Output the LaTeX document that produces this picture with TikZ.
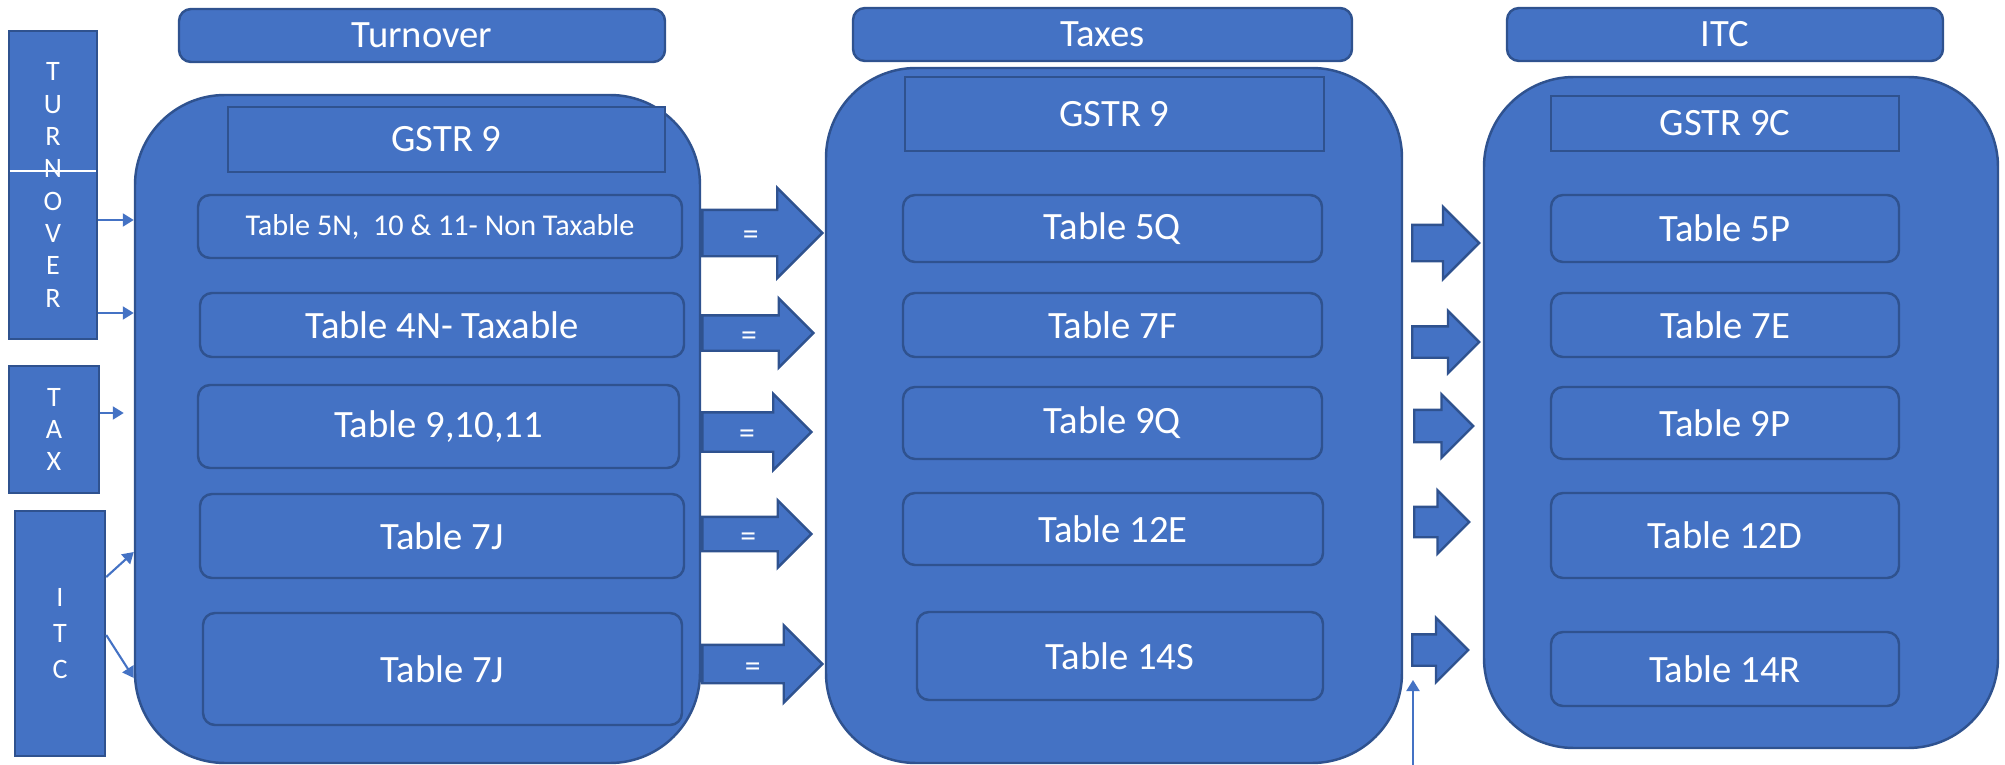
\documentclass[tikz,border=0pt]{standalone}
\usepackage{fontspec}
\setmainfont{Carlito}
\usetikzlibrary{shapes.arrows,arrows.meta}

\definecolor{gstfill}{HTML}{4472C4}
\definecolor{gstline}{HTML}{2F528F}

\newcommand\eqmark{\raisebox{-0.12cm}{=}}

\tikzset{
  card/.style={draw=gstline, fill=gstfill, text=white, line width=0.7pt, inner sep=0pt},
  sz/.style 2 args={minimum width=#1cm, minimum height=#2cm},
  sidebox/.style={card, align=center, font=\fontsize{8}{9.2}\selectfont},
  groupbox/.style={card, rounded corners=0.9cm},
  titlebox/.style={card, rounded corners=0.12cm, font=\fontsize{11}{13}\selectfont},
  formbox/.style={card, font=\fontsize{11}{13}\selectfont},
  tablebox/.style={card, rounded corners=0.12cm, font=\fontsize{11}{13}\selectfont},
  blockarrow/.style={card, single arrow, anchor=tail, minimum width=1pt,
    font=\fontsize{9}{10}\selectfont},
  blk/.style n args={3}{text height=#1cm, text depth=#1cm,
    single arrow head extend=#2cm, minimum height=#3cm},
  feed/.style={draw=gstfill, line width=0.6pt, -{Triangle[length=0.11cm,width=0.13cm]}}
}

\begin{document}
\begin{tikzpicture}
  \useasboundingbox (0,0) rectangle (20.05,-7.65);

  % side labels
  \node[sidebox, sz={0.88}{3.08}] (turn) at (0.53,-1.85) {T\\U\\R\\N\\O\\V\\E\\R};
  \draw[white, line width=0.5pt] ([shift={(0.02,0.14)}]turn.west) -- ([shift={(-0.02,0.14)}]turn.east);
  \node[sidebox, sz={0.90}{1.27}] (tax) at (0.54,-4.295) {T\\A\\X};
  \node[sidebox, sz={0.90}{2.45}, font=\fontsize{8}{10.2}\selectfont] (itc) at (0.60,-6.335) {I\\T\\C};

  % column headings
  \node[titlebox, sz={4.86}{0.53}] (tturn) at (4.22,-0.355) {Turnover};
  \node[titlebox, sz={4.99}{0.53}] (ttax) at (11.025,-0.345) {Taxes};
  \node[titlebox, sz={4.36}{0.53}] (titc) at (17.25,-0.345) {ITC};

  % big panels
  \node[groupbox, sz={5.65}{6.68}] (grp1) at (4.175,-4.29) {};
  \node[groupbox, sz={5.76}{6.95}] (grp2) at (11.14,-4.155) {};
  \node[groupbox, sz={5.14}{6.71}] (grp3) at (17.41,-4.125) {};

  % forms
  \node[formbox, sz={4.37}{0.65}] (f1) at (4.465,-1.395) {GSTR 9};
  \node[formbox, sz={4.19}{0.74}] (f2) at (11.145,-1.14) {GSTR 9};
  \node[formbox, sz={3.48}{0.55}] (f3) at (17.25,-1.235) {GSTR 9C};

  % GSTR 9 - turnover side
  \node[tablebox, sz={4.84}{0.63}, font=\fontsize{8.6}{10}\selectfont] (t5n) at (4.40,-2.265) {Table 5N,\ \ 10 \& 11- Non Taxable};
  \node[tablebox, sz={4.84}{0.64}] (t4n) at (4.42,-3.25) {Table 4N- Taxable};
  \node[tablebox, sz={4.81}{0.83}] (t9) at (4.385,-4.265) {Table 9,10,11};
  \node[tablebox, sz={4.84}{0.84}] (t7ja) at (4.42,-5.36) {Table 7J};
  \node[tablebox, sz={4.79}{1.12}] (t7jb) at (4.425,-6.69) {Table 7J};

  % GSTR 9 - taxes side
  \node[tablebox, sz={4.19}{0.67}] (t5q) at (11.125,-2.285) {Table 5Q};
  \node[tablebox, sz={4.19}{0.64}] (t7f) at (11.125,-3.25) {Table 7F};
  \node[tablebox, sz={4.19}{0.72}] (t9q) at (11.125,-4.23) {Table 9Q};
  \node[tablebox, sz={4.20}{0.72}] (t12e) at (11.13,-5.29) {Table 12E};
  \node[tablebox, sz={4.06}{0.88}] (t14s) at (11.20,-6.56) {Table 14S};

  % GSTR 9C
  \node[tablebox, sz={3.48}{0.67}] (t5p) at (17.25,-2.285) {Table 5P};
  \node[tablebox, sz={3.48}{0.64}] (t7e) at (17.25,-3.25) {Table 7E};
  \node[tablebox, sz={3.48}{0.72}] (t9p) at (17.25,-4.23) {Table 9P};
  \node[tablebox, sz={3.48}{0.85}] (t12d) at (17.25,-5.355) {Table 12D};
  \node[tablebox, sz={3.48}{0.74}] (t14r) at (17.25,-6.69) {Table 14R};

  % inputs
  \draw[feed] (turn.east |- 0,-2.20) -- (grp1.west |- 0,-2.20);
  \draw[feed] (turn.east |- 0,-3.13) -- (grp1.west |- 0,-3.13);
  \draw[feed] (tax.east |- 0,-4.13) -- ([xshift=-0.1cm]grp1.west |- 0,-4.13);
  \draw[feed] (itc.east |- 0,-5.77) -- (grp1.west |- 0,-5.52);
  \draw[feed] (itc.east |- 0,-6.35) -- (grp1.west |- 0,-6.78);

  % equals arrows
  \node[blockarrow, blk={0.22}{0.22}{1.20}] (eq1) at (grp1.east |- 0,-2.33) {\eqmark};
  \node[blockarrow, blk={0.165}{0.17}{1.11}] (eq2) at (grp1.east |- 0,-3.33) {\eqmark};
  \node[blockarrow, blk={0.185}{0.185}{1.09}] (eq3) at (grp1.east |- 0,-4.32) {\eqmark};
  \node[blockarrow, blk={0.16}{0.165}{1.09}] (eq4) at (grp1.east |- 0,-5.34) {\eqmark};
  \node[blockarrow, blk={0.18}{0.195}{1.20}] (eq5) at (grp1.east |- 0,-6.64) {\eqmark};

  % arrows into 9C
  \node[blockarrow, blk={0.17}{0.18}{0.67}] (to5p) at (14.11,-2.43) {};
  \node[blockarrow, blk={0.145}{0.155}{0.67}] (to7e) at (14.11,-3.42) {};
  \node[blockarrow, blk={0.15}{0.155}{0.59}] (to9p) at (14.13,-4.26) {};
  \node[blockarrow, blk={0.14}{0.165}{0.55}] (to12d) at (14.13,-5.22) {};
  \node[blockarrow, blk={0.145}{0.165}{0.56}] (to14r) at (14.11,-6.50) {};

  \coordinate (foot) at (14.13,-7.65);
  \coordinate (rise) at (14.13,-6.80);
  \draw[feed] (foot) -- (rise);
\end{tikzpicture}
\end{document}
